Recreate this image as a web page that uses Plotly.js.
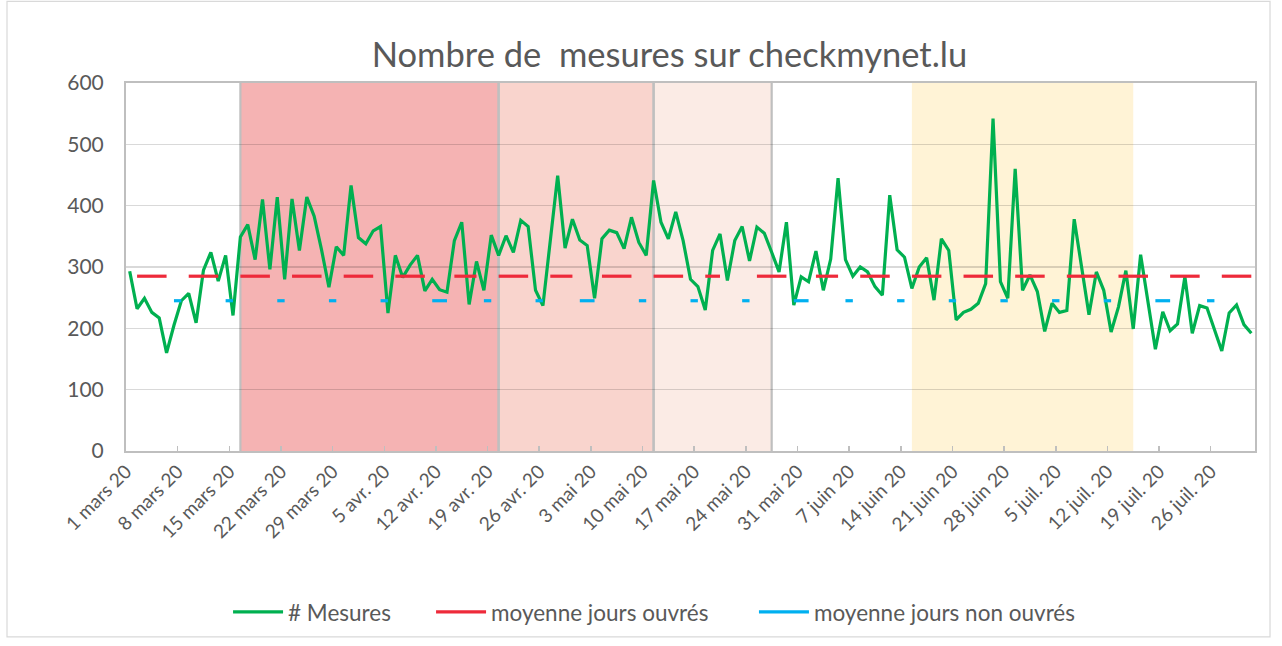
<!DOCTYPE html>
<html>
<head>
<meta charset="utf-8">
<script src="https://cdn.plot.ly/plotly-3.0.1.min.js"></script>
<style>html,body{margin:0;padding:0;background:#fff;}#chart{width:1282px;height:646px;}</style>
</head>
<body>
<div id="chart"></div>
<script>
// ---- Data ----
const startDate = '2020-03-01';
const mesures = [
293,232,249,226,217,160,205,245,257,209,
295,324,277,319,221,349,369,312,410,296,
414,280,411,327,414,383,328,267,333,319,
433,348,338,359,366,225,319,283,303,319,
261,280,263,259,343,373,239,309,262,352,
319,351,324,376,366,262,237,340,449,331,
378,344,335,249,346,360,356,330,381,340,
319,441,373,346,390,343,280,268,230,327,
354,278,343,366,310,365,355,324,292,373,
238,284,276,326,262,313,445,312,285,300,
292,268,254,417,328,316,265,300,315,246,
346,327,214,226,231,241,273,542,276,249,
460,262,287,260,195,241,226,229,378,300,
222,292,262,194,235,294,199,320,242,166,
227,196,207,284,192,237,233,198,163,225,
238,206,192
];
const moyenneOuvres = 285;
const moyenneNonOuvres = 245;
const joursFeries = ['2020-04-13','2020-05-01','2020-05-21','2020-06-01'];
const joursMixtes = ['2020-07-20'];

const tickDates = ['2020-03-01','2020-03-08','2020-03-15','2020-03-22','2020-03-29','2020-04-05','2020-04-12','2020-04-19','2020-04-26','2020-05-03','2020-05-10','2020-05-17','2020-05-24','2020-05-31','2020-06-07','2020-06-14','2020-06-21','2020-06-28','2020-07-05','2020-07-12','2020-07-19','2020-07-26'];
const tickLabels = ['1 mars 20','8 mars 20','15 mars 20','22 mars 20','29 mars 20','5 avr. 20','12 avr. 20','19 avr. 20','26 avr. 20','3 mai 20','10 mai 20','17 mai 20','24 mai 20','31 mai 20','7 juin 20','14 juin 20','21 juin 20','28 juin 20','5 juil. 20','12 juil. 20','19 juil. 20','26 juil. 20'];

const periodes = [
  {debut:'2020-03-16', fin:'2020-04-20', couleur:'#F5B3B3', bord:true},
  {debut:'2020-04-20', fin:'2020-05-11', couleur:'#F9D4CD', bord:true},
  {debut:'2020-05-11', fin:'2020-05-27', couleur:'#FBEBE5', bord:true},
  {debut:'2020-06-15', fin:'2020-07-15', couleur:'#FFF3D6', bord:false}
];

// ---- Build series ----
const dates = [], dayKeys = [];
const t0 = Date.parse(startDate + 'T00:00:00Z');
for (let i = 0; i < mesures.length; i++) {
  const d = new Date(t0 + i * 86400000);
  const key = d.toISOString().slice(0,10);
  dayKeys.push(key);
  dates.push(key + ' 12:00');
}
const ouvres = [], nonOuvres = [];
dayKeys.forEach((k) => {
  const wd = new Date(k + 'T00:00:00Z').getUTCDay();
  const ferie = wd === 0 || wd === 6 || joursFeries.includes(k);
  const mixte = joursMixtes.includes(k);
  ouvres.push(!ferie || mixte ? moyenneOuvres : null);
  nonOuvres.push(ferie || mixte ? moyenneNonOuvres : null);
});

const FONT = 'Lato, "Open Sans", sans-serif';
const TXT = '#595959';

const traces = [
  {x: dates, y: mesures, type:'scatter', mode:'lines', name:'# Mesures',
   line:{color:'#00B050', width:3.2}, legend:'legend'},
  {x: dates, y: ouvres, type:'scatter', mode:'lines', name:'moyenne jours ouvrés',
   line:{color:'#EE2A3A', width:3.2}, connectgaps:false, legend:'legend2'},
  {x: dates, y: nonOuvres, type:'scatter', mode:'lines', name:'moyenne jours non ouvrés',
   line:{color:'#00B0F0', width:3.2}, connectgaps:false, legend:'legend3'}
];

const shapes = [];
periodes.forEach(p => {
  shapes.push({type:'rect', xref:'x', yref:'paper', x0:p.debut+' 12:00', x1:p.fin+' 12:00', y0:0, y1:1,
    fillcolor:p.couleur, line:{width:0}, layer:'below'});
});
periodes.forEach(p => {
  if (p.bord) {
    [p.debut, p.fin].forEach(d => shapes.push({type:'line', xref:'x', yref:'paper', x0:d+' 12:00', x1:d+' 12:00', y0:0, y1:1,
      line:{color:'#BFBFBF', width:2.2}, layer:'below'}));
  }
});
// outer chart frame
shapes.push({type:'rect', xref:'paper', yref:'paper', x0:-0.1054, x1:1.0133, y0:-0.505, y1:1.2216,
  line:{color:'#D9D9D9', width:1.2}, fillcolor:'rgba(0,0,0,0)', layer:'below'});

const legBase = {orientation:'h', xanchor:'left', y:-0.438, yanchor:'middle',
  font:{family:FONT, size:22.5, color:TXT}, bgcolor:'rgba(0,0,0,0)', itemwidth:50};

const layout = {
  width:1282, height:646,
  margin:{l:126, r:27, t:83, b:193, pad:0},
  paper_bgcolor:'#ffffff', plot_bgcolor:'#ffffff',
  font:{family:FONT, color:TXT},
  title:{text:'Nombre de&nbsp; mesures sur checkmynet.lu', font:{family:FONT, size:34.5, color:TXT},
    x:0.4814, xanchor:'center', y:0.915, yanchor:'middle', xref:'paper'},
  xaxis:{type:'date', range:['2020-03-01 00:00','2020-08-01 00:00'],
    tickmode:'array', tickvals:tickDates, ticktext:tickLabels, tickangle:-45,
    ticks:'inside', ticklen:5, tickwidth:1.5, tickcolor:'#BFBFBF',
    showgrid:false, zeroline:false, showline:true, linecolor:'#BFBFBF', linewidth:2, mirror:true,
    tickfont:{family:FONT, size:19, color:TXT}, fixedrange:true},
  yaxis:{range:[0,600], tickmode:'linear', tick0:0, dtick:100,
    showgrid:true, gridcolor:'rgba(0,0,0,0.15)', gridwidth:1.5, zeroline:false,
    showline:true, linecolor:'#BFBFBF', linewidth:2, mirror:true,
    ticks:'', ticklabelstandoff:16,
    tickfont:{family:FONT, size:21, color:TXT}, fixedrange:true},
  showlegend:true,
  legend:Object.assign({}, legBase, {x:0.0904}),
  legend2:Object.assign({}, legBase, {x:0.2702}),
  legend3:Object.assign({}, legBase, {x:0.5562}),
  shapes:shapes
};

Plotly.newPlot('chart', traces, layout, {displayModeBar:false, staticPlot:true});
</script>
</body>
</html>
